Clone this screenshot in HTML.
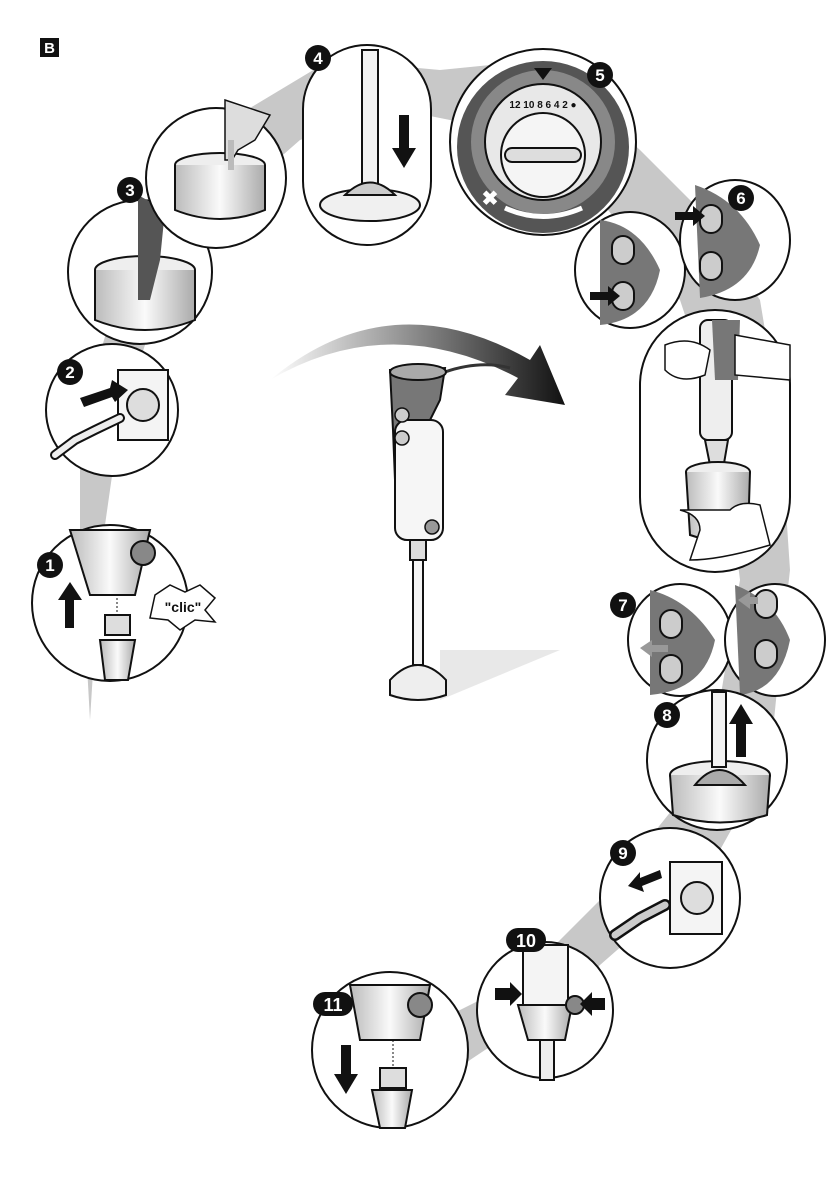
<!DOCTYPE html>
<html><head><meta charset="utf-8"><style>
html,body{margin:0;padding:0;background:#fff;}
svg{display:block;}
text{font-family:"Liberation Sans",sans-serif;font-weight:bold;}
</style></head><body>
<svg width="840" height="1190" viewBox="0 0 840 1190" xmlns="http://www.w3.org/2000/svg">
<defs>
<linearGradient id="arc" x1="0" x2="1" y1="0" y2="0">
<stop offset="0" stop-color="#fff"/><stop offset="1" stop-color="#111"/></linearGradient>
<linearGradient id="cup" x1="0" x2="1"><stop offset="0" stop-color="#bbb"/><stop offset=".5" stop-color="#fafafa"/><stop offset="1" stop-color="#aaa"/></linearGradient>
</defs>
<!-- gray ribbon -->
<path d="M90 720 L80 540 L80 420 L110 320 L150 230 L230 120 L330 60 L440 70 L540 60 L640 150 L700 210 L760 300 L780 420 L790 570 L780 660 L770 760 L720 850 L640 930 L560 1000 L470 1060 L400 1120 L340 1110 L400 1040 L520 980 L600 900 L680 800 L720 700 L740 580 L720 420 L680 300 L600 200 L500 130 L400 110 L300 140 L220 210 L160 300 L120 420 L100 560 Z" fill="#c8c8c8"/>
<!-- B label -->
<rect x="40" y="38" width="19" height="19" fill="#111"/>
<text x="49.5" y="53" font-size="15" fill="#fff" text-anchor="middle">B</text>

<!-- Step 1 -->
<circle cx="110" cy="603" r="78" fill="#fff" stroke="#111" stroke-width="2"/>
<path d="M70 530 L150 530 L135 595 L90 595 Z" fill="url(#cup)" stroke="#111" stroke-width="2"/>
<circle cx="143" cy="553" r="12" fill="#888" stroke="#111" stroke-width="2"/>
<rect x="65" y="598" width="9" height="30" fill="#111"/><path d="M58 600 L70 582 L82 600 Z" fill="#111"/>
<line x1="117" y1="598" x2="117" y2="615" stroke="#111" stroke-dasharray="2 2"/>
<rect x="105" y="615" width="25" height="20" fill="#ddd" stroke="#111" stroke-width="2"/>
<path d="M100 640 L135 640 L128 680 L105 680 Z" fill="url(#cup)" stroke="#111" stroke-width="2"/>
<path d="M155 595 L170 585 L185 592 L200 585 L215 598 L205 610 L215 622 L195 620 L180 630 L168 620 L150 618 Z" fill="#fff" stroke="#111" stroke-width="1.5"/>
<text x="183" y="612" font-size="14" text-anchor="middle" fill="#111">"clic"</text>
<circle cx="50" cy="565" r="13" fill="#111"/><text x="50" y="571" font-size="17" fill="#fff" text-anchor="middle">1</text>

<!-- Step 2 -->
<circle cx="112" cy="410" r="66" fill="#fff" stroke="#111" stroke-width="2"/>
<rect x="118" y="370" width="50" height="70" fill="#f4f4f4" stroke="#111" stroke-width="2"/>
<circle cx="143" cy="405" r="16" fill="#ddd" stroke="#111" stroke-width="2"/>
<path d="M80 398 L110 388 L112 380 L128 390 L115 402 L112 397 L84 407 Z" fill="#111"/>
<path d="M55 455 L75 440 L95 430 L120 418" stroke="#111" stroke-width="10" stroke-linecap="round" fill="none"/>
<path d="M55 455 L75 440 L95 430 L120 418" stroke="#eee" stroke-width="6" stroke-linecap="round" fill="none"/>
<circle cx="70" cy="372" r="13" fill="#111"/><text x="70" y="378" font-size="17" fill="#fff" text-anchor="middle">2</text>

<!-- Step 3 -->
<circle cx="140" cy="272" r="72" fill="#fff" stroke="#111" stroke-width="2"/>
<ellipse cx="145" cy="270" rx="50" ry="14" fill="#eee" stroke="#111" stroke-width="2"/>
<path d="M95 270 L95 320 Q145 340 195 320 L195 270" fill="url(#cup)" stroke="#111" stroke-width="2"/>
<path d="M138 195 L165 210 L160 260 L150 300 L138 300 Z" fill="#555"/>
<circle cx="130" cy="190" r="13" fill="#111"/><text x="130" y="196" font-size="17" fill="#fff" text-anchor="middle">3</text>

<!-- Pouring -->
<circle cx="216" cy="178" r="70" fill="#fff" stroke="#111" stroke-width="2"/>
<ellipse cx="220" cy="165" rx="45" ry="12" fill="#eee" stroke="#111" stroke-width="2"/>
<path d="M175 165 L175 210 Q220 228 265 210 L265 165" fill="url(#cup)" stroke="#111" stroke-width="2"/>
<path d="M225 100 L270 115 L255 140 L238 150 L232 160 L225 160 Z" fill="#ddd" stroke="#111" stroke-width="1.5"/>
<rect x="228" y="140" width="6" height="30" fill="#bbb"/>

<!-- Step 4 -->
<rect x="303" y="45" width="128" height="200" rx="64" fill="#fff" stroke="#111" stroke-width="2"/>
<rect x="362" y="50" width="16" height="135" fill="#f2f2f2" stroke="#111" stroke-width="2"/>
<ellipse cx="370" cy="205" rx="50" ry="16" fill="#f0f0f0" stroke="#111" stroke-width="2"/>
<path d="M345 195 Q370 170 395 195 Z" fill="#ccc" stroke="#111" stroke-width="2"/>
<rect x="399" y="115" width="10" height="35" fill="#111"/><path d="M392 148 L404 168 L416 148 Z" fill="#111"/>
<circle cx="318" cy="58" r="13" fill="#111"/><text x="318" y="64" font-size="17" fill="#fff" text-anchor="middle">4</text>

<!-- Step 5 dial -->
<circle cx="543" cy="142" r="93" fill="#fff" stroke="#111" stroke-width="2"/>
<circle cx="543" cy="147" r="86" fill="#555"/>
<circle cx="543" cy="142" r="72" fill="#888"/>
<circle cx="543" cy="142" r="58" fill="#e8e8e8" stroke="#111" stroke-width="2"/>
<circle cx="543" cy="155" r="42" fill="#f5f5f5" stroke="#111" stroke-width="2"/>
<rect x="505" y="148" width="76" height="14" rx="7" fill="#ddd" stroke="#111" stroke-width="2"/>
<text x="543" y="108" font-size="10" fill="#111" text-anchor="middle">12 10 8 6 4 2 ●</text>
<path d="M505 208 Q543 225 582 208" stroke="#fff" stroke-width="5" fill="none"/>
<text x="490" y="205" font-size="20" fill="#fff" text-anchor="middle">✖</text>
<path d="M534 68 L552 68 L543 80 Z" fill="#111"/>
<circle cx="600" cy="75" r="13" fill="#111"/><text x="600" y="81" font-size="17" fill="#fff" text-anchor="middle">5</text>

<!-- Step 6 pair -->
<ellipse cx="630" cy="270" rx="55" ry="58" fill="#fff" stroke="#111" stroke-width="2"/>
<path d="M600 220 Q640 225 660 270 Q650 320 600 325 Z" fill="#777"/>
<rect x="612" y="236" width="22" height="28" rx="11" fill="#ccc" stroke="#111" stroke-width="2"/>
<rect x="612" y="282" width="22" height="28" rx="11" fill="#ccc" stroke="#111" stroke-width="2"/>
<path d="M590 292 L608 292 L608 286 L620 296 L608 306 L608 300 L590 300 Z" fill="#111"/>
<ellipse cx="735" cy="240" rx="55" ry="60" fill="#fff" stroke="#111" stroke-width="2"/>
<path d="M695 185 Q740 200 760 245 Q750 290 700 298 Z" fill="#777"/>
<rect x="700" y="205" width="22" height="28" rx="11" fill="#ccc" stroke="#111" stroke-width="2"/>
<rect x="700" y="252" width="22" height="28" rx="11" fill="#ccc" stroke="#111" stroke-width="2"/>
<path d="M675 212 L693 212 L693 206 L705 216 L693 226 L693 220 L675 220 Z" fill="#111"/>
<circle cx="741" cy="198" r="13" fill="#111"/><text x="741" y="204" font-size="17" fill="#fff" text-anchor="middle">6</text>

<!-- pill with hands -->
<rect x="640" y="310" width="150" height="262" rx="75" fill="#fff" stroke="#111" stroke-width="2"/>
<rect x="700" y="320" width="32" height="120" rx="8" fill="#eee" stroke="#111" stroke-width="2"/>
<path d="M712 320 L740 320 L738 380 L715 380 Z" fill="#777"/>
<path d="M705 440 L728 440 L722 475 L712 475 Z" fill="#ddd" stroke="#111" stroke-width="2"/>
<ellipse cx="718" cy="472" rx="32" ry="10" fill="#eee" stroke="#111" stroke-width="2"/>
<path d="M686 472 L690 535 Q718 545 748 535 L750 472" fill="url(#cup)" stroke="#111" stroke-width="2"/>
<path d="M665 345 Q690 335 710 350 L705 375 Q680 385 665 370 Z" fill="#fff" stroke="#111" stroke-width="1.5"/>
<path d="M735 335 L790 345 L790 380 L735 375 Z" fill="#fff" stroke="#111" stroke-width="1.5"/>
<path d="M680 510 Q700 515 700 530 L690 560 Q720 560 770 545 L760 505 Q740 500 730 510 Z" fill="#fff" stroke="#111" stroke-width="1.5"/>

<!-- Step 7 pair -->
<ellipse cx="680" cy="640" rx="52" ry="56" fill="#fff" stroke="#111" stroke-width="2"/>
<path d="M650 590 Q690 600 715 640 Q705 690 650 695 Z" fill="#777"/>
<rect x="660" y="610" width="22" height="28" rx="11" fill="#ccc" stroke="#111" stroke-width="2"/>
<rect x="660" y="655" width="22" height="28" rx="11" fill="#ccc" stroke="#111" stroke-width="2"/>
<path d="M640 648 L652 640 L652 645 L668 645 L668 652 L652 652 L652 657 Z" fill="#999"/>
<ellipse cx="775" cy="640" rx="50" ry="56" fill="#fff" stroke="#111" stroke-width="2"/>
<path d="M735 585 Q775 600 790 640 Q780 690 740 695 Z" fill="#777"/>
<rect x="755" y="590" width="22" height="28" rx="11" fill="#ccc" stroke="#111" stroke-width="2"/>
<rect x="755" y="640" width="22" height="28" rx="11" fill="#ccc" stroke="#111" stroke-width="2"/>
<path d="M738 600 L750 592 L750 597 L758 597 L758 604 L750 604 L750 609 Z" fill="#999"/>
<circle cx="623" cy="605" r="13" fill="#111"/><text x="623" y="611" font-size="17" fill="#fff" text-anchor="middle">7</text>

<!-- Step 8 -->
<circle cx="717" cy="760" r="70" fill="#fff" stroke="#111" stroke-width="2"/>
<ellipse cx="720" cy="775" rx="50" ry="14" fill="#eee" stroke="#111" stroke-width="2"/>
<path d="M670 775 L673 815 Q720 830 767 815 L770 775" fill="url(#cup)" stroke="#111" stroke-width="2"/>
<rect x="712" y="692" width="14" height="75" fill="#f2f2f2" stroke="#111" stroke-width="2"/>
<path d="M695 785 Q719 755 745 785 Z" fill="#aaa" stroke="#111" stroke-width="2"/>
<rect x="736" y="722" width="10" height="35" fill="#111"/><path d="M729 724 L741 704 L753 724 Z" fill="#111"/>
<circle cx="667" cy="715" r="13" fill="#111"/><text x="667" y="721" font-size="17" fill="#fff" text-anchor="middle">8</text>

<!-- Step 9 -->
<circle cx="670" cy="898" r="70" fill="#fff" stroke="#111" stroke-width="2"/>
<rect x="670" y="862" width="52" height="72" fill="#f4f4f4" stroke="#111" stroke-width="2"/>
<circle cx="697" cy="898" r="16" fill="#ddd" stroke="#111" stroke-width="2"/>
<path d="M660 870 L640 878 L640 872 L628 886 L644 892 L642 886 L662 878 Z" fill="#111"/>
<path d="M615 935 L640 918 L665 905" stroke="#111" stroke-width="12" stroke-linecap="round" fill="none"/>
<path d="M615 935 L640 918 L665 905" stroke="#ccc" stroke-width="7" stroke-linecap="round" fill="none"/>
<circle cx="623" cy="853" r="13" fill="#111"/><text x="623" y="859" font-size="17" fill="#fff" text-anchor="middle">9</text>

<!-- Step 10 -->
<circle cx="545" cy="1010" r="68" fill="#fff" stroke="#111" stroke-width="2"/>
<rect x="523" y="945" width="45" height="60" fill="#f4f4f4" stroke="#111" stroke-width="2"/>
<path d="M518 1005 L572 1005 L565 1040 L528 1040 Z" fill="url(#cup)" stroke="#111" stroke-width="2"/>
<circle cx="575" cy="1005" r="9" fill="#888" stroke="#111" stroke-width="2"/>
<rect x="540" y="1040" width="14" height="40" fill="#eee" stroke="#111" stroke-width="2"/>
<path d="M495 988 L510 988 L510 982 L522 994 L510 1006 L510 1000 L495 1000 Z" fill="#111"/>
<path d="M605 998 L592 998 L592 992 L580 1004 L592 1016 L592 1010 L605 1010 Z" fill="#111"/>
<rect x="506" y="928" width="40" height="24" rx="12" fill="#111"/><text x="526" y="947" font-size="18" fill="#fff" text-anchor="middle">10</text>

<!-- Step 11 -->
<circle cx="390" cy="1050" r="78" fill="#fff" stroke="#111" stroke-width="2"/>
<path d="M350 985 L430 985 L420 1040 L360 1040 Z" fill="url(#cup)" stroke="#111" stroke-width="2"/>
<circle cx="420" cy="1005" r="12" fill="#888" stroke="#111" stroke-width="2"/>
<line x1="393" y1="1040" x2="393" y2="1068" stroke="#111" stroke-dasharray="2 2"/>
<rect x="380" y="1068" width="26" height="20" fill="#ddd" stroke="#111" stroke-width="2"/>
<path d="M372 1090 L412 1090 L405 1128 L380 1128 Z" fill="url(#cup)" stroke="#111" stroke-width="2"/>
<rect x="341" y="1045" width="10" height="32" fill="#111"/><path d="M334 1074 L346 1094 L358 1074 Z" fill="#111"/>
<rect x="313" y="992" width="40" height="24" rx="12" fill="#111"/><text x="333" y="1011" font-size="18" fill="#fff" text-anchor="middle">11</text>

<!-- curved arrow -->
<path d="M270 380 Q390 280 530 360 L540 345 L565 405 L505 395 L518 378 Q390 310 270 380 Z" fill="url(#arc)"/>

<!-- central blender -->
<path d="M440 650 L560 650 L440 700 Z" fill="#e8e8e8"/>
<path d="M445 372 Q480 360 510 368" stroke="#333" stroke-width="3" fill="none"/>
<path d="M390 370 L445 368 L440 400 L430 420 L425 480 L395 480 L393 430 Z" fill="#777" stroke="#111" stroke-width="2"/>
<ellipse cx="418" cy="372" rx="28" ry="8" fill="#aaa" stroke="#111" stroke-width="2"/>
<rect x="395" y="420" width="48" height="120" rx="12" fill="#f6f6f6" stroke="#111" stroke-width="2"/>
<circle cx="402" cy="415" r="7" fill="#ccc" stroke="#111" stroke-width="1.5"/>
<circle cx="402" cy="438" r="7" fill="#ccc" stroke="#111" stroke-width="1.5"/>
<circle cx="432" cy="527" r="7" fill="#999" stroke="#111" stroke-width="1.5"/>
<rect x="410" y="540" width="16" height="20" fill="#ddd" stroke="#111" stroke-width="2"/>
<rect x="413" y="560" width="10" height="105" fill="#f4f4f4" stroke="#111" stroke-width="2"/>
<path d="M390 680 Q418 650 446 680 L446 695 Q418 705 390 695 Z" fill="#eee" stroke="#111" stroke-width="2"/>
</svg>
</body></html>
